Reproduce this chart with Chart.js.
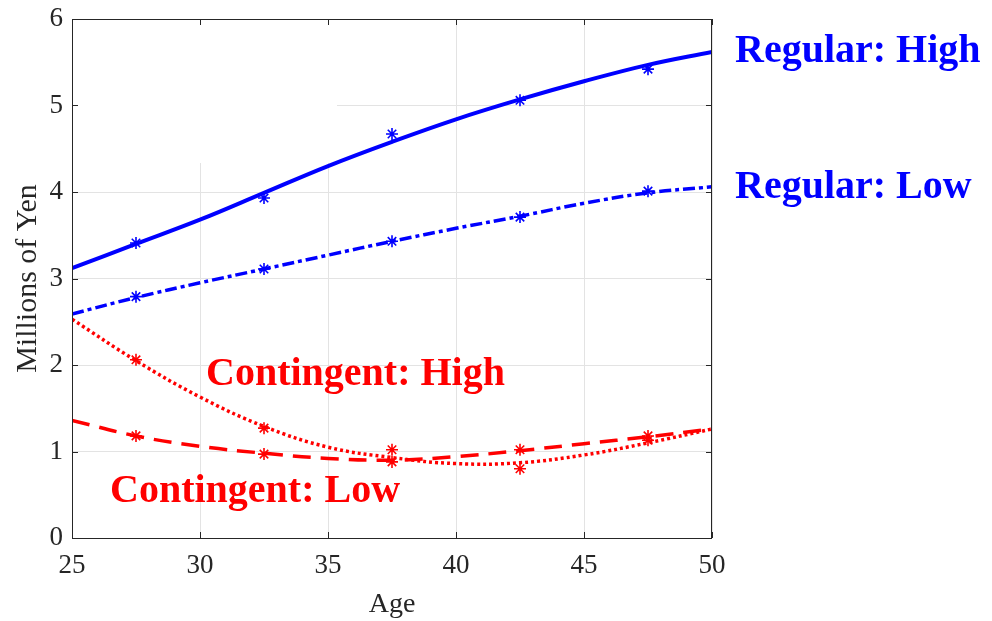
<!DOCTYPE html>
<html>
<head>
<meta charset="utf-8">
<title>Wage profiles by age</title>
<script src="https://cdn.jsdelivr.net/npm/chart.js@4.4.1/dist/chart.umd.min.js"></script>
<style>
  html, body { margin: 0; padding: 0; background: #fff; }
  #wrap { width: 992px; height: 621px; position: relative; }
</style>
</head>
<body>
<div id="wrap"><canvas id="wages"></canvas></div>
<script>
// Annual earnings (millions of yen) by age: fitted profiles plus cell means.

const fitAges = [25, 27.5, 30, 32.5, 35, 37.5, 40, 42.5, 45, 47.5, 50];
const regularHighFit    = [3.12, 3.40, 3.68, 3.99, 4.30, 4.58, 4.84, 5.07, 5.28, 5.47, 5.62];
const regularLowFit     = [2.59, 2.78, 2.95, 3.11, 3.27, 3.43, 3.58, 3.72, 3.87, 3.99, 4.06];
const contingentHighFit = [2.53, 2.05, 1.63, 1.29, 1.05, 0.93, 0.86, 0.87, 0.96, 1.10, 1.26];
const contingentLowFit  = [1.36, 1.18, 1.06, 0.98, 0.92, 0.90, 0.94, 1.01, 1.09, 1.17, 1.26];

const obsAges = [27.5, 32.5, 37.5, 42.5, 47.5];
const regularHighObs    = [3.41, 3.93, 4.67, 5.06, 5.42];
const regularLowObs     = [2.79, 3.11, 3.43, 3.71, 4.01];
const contingentHighObs = [2.06, 1.27, 0.88, 0.80, 1.13];
const contingentLowObs  = [1.18, 0.97, 1.02, 1.02, 1.18];

const xTicks = [25, 30, 35, 40, 45, 50];
const yTicks = [0, 1, 2, 3, 4, 5, 6];

const seriesLabels = [
  { text: 'Regular: High',    color: '#0000ff', x: 735, y: 62 },
  { text: 'Regular: Low',     color: '#0000ff', x: 735, y: 198 },
  { text: 'Contingent: High', color: '#ff0000', x: 206, y: 385 },
  { text: 'Contingent: Low',  color: '#ff0000', x: 110, y: 502 },
];

const BLUE = '#0000ff';
const RED = '#ff0000';
const AXIS = '#262626';
const SERIF = '"Liberation Serif", "Times New Roman", serif';

function toPoints(xs, ys) {
  return xs.map((x, i) => ({ x, y: ys[i] }));
}

function fitLine(label, values, color, dash, width) {
  return {
    label,
    data: toPoints(fitAges, values),
    borderColor: color,
    borderWidth: width,
    borderDash: dash,
    borderCapStyle: 'butt',
    pointRadius: 0,
    fill: false,
    tension: 0.4,
  };
}

function obsPoints(label, values, color) {
  return {
    label,
    data: toPoints(obsAges, values),
    showLine: false,
    pointStyle: 'star',
    pointRadius: 6,
    pointBorderWidth: 1.6,
    pointBorderColor: color,
    pointBackgroundColor: color,
  };
}

// white patch over the upper-left grid, then MATLAB-style frame with inward ticks
const framePlugin = {
  id: 'frame',
  beforeDatasetsDraw(chart) {
    const { ctx, chartArea: a } = chart;
    ctx.save();
    ctx.fillStyle = '#ffffff';
    ctx.fillRect(a.left + 1, a.top + 1, 264, 143);
    ctx.restore();
  },
  afterDatasetsDraw(chart) {
    const { ctx, chartArea: a, scales } = chart;
    ctx.save();
    ctx.strokeStyle = AXIS;
    ctx.lineWidth = 1;
    ctx.strokeRect(Math.round(a.left) + 0.5, Math.round(a.top) + 0.5,
      Math.round(a.right - a.left) - 1, Math.round(a.bottom - a.top));
    const len = 6;
    ctx.beginPath();
    xTicks.forEach(v => {
      const px = Math.round(scales.x.getPixelForValue(v)) + 0.5;
      ctx.moveTo(px, a.bottom); ctx.lineTo(px, a.bottom - len);
      ctx.moveTo(px, a.top); ctx.lineTo(px, a.top + len);
    });
    yTicks.forEach(v => {
      const py = Math.round(scales.y.getPixelForValue(v)) + 0.5;
      ctx.moveTo(a.left, py); ctx.lineTo(a.left + len, py);
      ctx.moveTo(a.right, py); ctx.lineTo(a.right - len, py);
    });
    ctx.stroke();
    ctx.restore();
  },
  afterDraw(chart) {
    const { ctx } = chart;
    ctx.save();
    ctx.font = 'bold 40px ' + SERIF;
    ctx.textBaseline = 'alphabetic';
    ctx.textAlign = 'left';
    seriesLabels.forEach(l => {
      ctx.fillStyle = l.color;
      ctx.fillText(l.text, l.x, l.y);
    });
    ctx.restore();
  }
};

new Chart(document.getElementById('wages'), {
  type: 'line',
  data: {
    datasets: [
      fitLine('Regular: High', regularHighFit, BLUE, [], 4),
      fitLine('Regular: Low', regularLowFit, BLUE, [12, 4, 4, 4], 3.5),
      fitLine('Contingent: High', contingentHighFit, RED, [3, 3], 3.5),
      fitLine('Contingent: Low', contingentLowFit, RED, [18, 10], 3.5),
      obsPoints('Regular: High (mean)', regularHighObs, BLUE),
      obsPoints('Regular: Low (mean)', regularLowObs, BLUE),
      obsPoints('Contingent: High (mean)', contingentHighObs, RED),
      obsPoints('Contingent: Low (mean)', contingentLowObs, RED),
    ]
  },
  options: {
    responsive: true,
    maintainAspectRatio: false,
    animation: false,
    layout: { padding: { left: 0, right: 280, top: 19, bottom: 0 } },
    plugins: {
      legend: { display: false },
      tooltip: { enabled: false },
    },
    scales: {
      x: {
        type: 'linear',
        min: 25,
        max: 50,
        afterBuildTicks: s => { s.ticks = xTicks.map(v => ({ value: v })); },
        afterFit: s => { s.height = 83; s.paddingLeft = 0; s.paddingRight = 0; },
        ticks: { color: AXIS, font: { family: SERIF, size: 27 }, padding: 12 },
        grid: { color: '#e3e3e3', drawTicks: false },
        border: { display: false },
        title: {
          display: true,
          text: 'Age',
          color: AXIS,
          font: { family: SERIF, size: 28 },
          padding: { top: 0, bottom: 0 },
        },
      },
      y: {
        type: 'linear',
        min: 0,
        max: 6,
        afterBuildTicks: s => { s.ticks = yTicks.map(v => ({ value: v })); },
        afterFit: s => { s.width = 72; s.paddingTop = 0; s.paddingBottom = 0; },
        ticks: { color: AXIS, font: { family: SERIF, size: 27 }, padding: 9 },
        grid: { color: '#e3e3e3', drawTicks: false },
        border: { display: false },
        title: {
          display: true,
          text: 'Millions of Yen',
          color: AXIS,
          font: { family: SERIF, size: 30 },
          padding: { top: 10, bottom: 0 },
        },
      },
    },
  },
  plugins: [framePlugin],
});
</script>
</body>
</html>
